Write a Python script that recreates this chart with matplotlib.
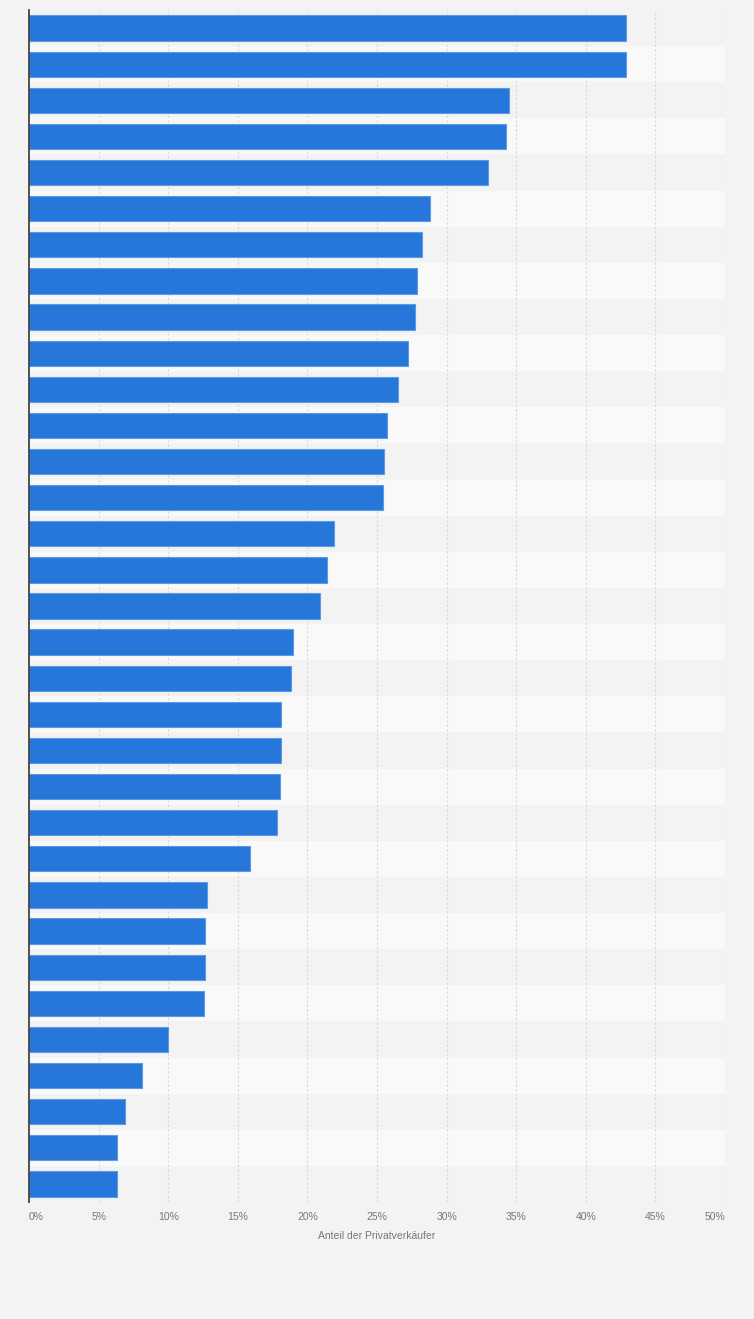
import numpy as np
import matplotlib.pyplot as plt

# share of private sellers, in percent (top to bottom)
values = [42.9, 42.9, 34.5, 34.3, 33.0, 28.8, 28.2, 27.9, 27.75, 27.25, 26.5,
          25.7, 25.5, 25.4, 21.9, 21.4, 20.9, 19.0, 18.8, 18.1, 18.1, 18.0,
          17.85, 15.9, 12.8, 12.65, 12.65, 12.6, 10.0, 8.1, 6.9, 6.3, 6.3]
ticks = [0, 5, 10, 15, 20, 25, 30, 35, 40, 45, 50]
tick_labels = [str(t) + "%" for t in ticks]
xlabel = "Anteil der Privatverkäufer"

plt.rcParams["font.family"] = ["Liberation Sans", "DejaVu Sans"]

n = len(values)
y = np.arange(n)

fig = plt.figure(figsize=(7.54, 13.19), dpi=100)
fig.patch.set_facecolor("#f3f3f3")
ax = fig.add_axes([29 / 754, 1 - 1202 / 1319, 696 / 754, 1192 / 1319])
ax.set_facecolor("#f3f3f3")

# alternating row bands
for i in y:
    ax.axhspan(i - 0.5, i + 0.5, color="#f3f3f3" if i % 2 == 0 else "#f9f9f9",
               lw=0, zorder=0)

for t in ticks[1:]:
    ax.axvline(t, color="#d8d8d8", lw=0.8, ls=(0, (2, 2)), zorder=1)

ax.barh(y, values, height=0.7, color="#2677d9", edgecolor="#5b9be6",
        linewidth=0.8, zorder=2)

ax.set_xlim(0, 50)
ax.set_ylim(n - 0.5, -0.5)
ax.set_yticks([])
ax.set_xticks(ticks)
ax.set_xticklabels(tick_labels, fontsize=7.5, color="#777777")
labels = ax.get_xticklabels()
labels[0].set_ha("left")
labels[-1].set_ha("right")
ax.tick_params(axis="x", length=0, pad=7)

for s in ["top", "right", "bottom"]:
    ax.spines[s].set_visible(False)
ax.spines["left"].set_color("#444444")
ax.spines["left"].set_linewidth(1.3)

ax.set_xlabel(xlabel, fontsize=7.5, color="#777777", labelpad=7)

fig.savefig("out.png", dpi=100, facecolor=fig.get_facecolor())
